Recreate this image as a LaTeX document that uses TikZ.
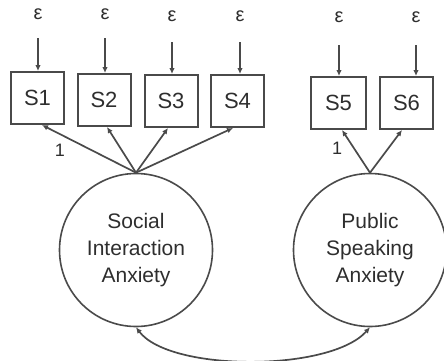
\documentclass[tikz,border=0pt]{standalone}
\usepackage{fontspec}
\setmainfont{Liberation Sans}
\usetikzlibrary{arrows.meta}
\definecolor{ink}{HTML}{2E2E2E}
\definecolor{linec}{HTML}{4A4A4A}
\tikzset{
  obs/.style={draw=linec, line width=2pt, minimum width=53pt, minimum height=52pt, inner sep=0pt, text=ink, font=\fontsize{22}{24}\selectfont},
  lat/.style={draw=linec, line width=1.6pt, circle, minimum size=153pt, inner sep=0pt, text=ink, align=center, font=\fontsize{21}{27}\selectfont},
  err/.style={inner sep=1pt, text=ink, font=\fontsize{20}{22}\selectfont},
  lbl/.style={inner sep=0pt, text=ink, font=\fontsize{18}{20}\selectfont},
  arr/.style={draw=linec, line width=1.7pt, -{Latex[length=6pt,width=5.5pt]}},
  darr/.style={draw=linec, line width=1.7pt, {Latex[length=6pt,width=5.5pt]}-{Latex[length=6pt,width=5.5pt]}}
}
\begin{document}
\begin{tikzpicture}[x=1pt,y=-1pt]
\useasboundingbox (0,0) rectangle (444,360);
% observed
\node[obs] (S1) at (37.5,98) {S1};
\node[obs] (S2) at (104,100) {S2};
\node[obs] (S3) at (171,101) {S3};
\node[obs] (S4) at (237.5,101) {S4};
\node[obs, minimum width=55pt] (S5) at (338.5,103) {S5};
\node[obs] (S6) at (406.5,103) {S6};
% errors
\node[err] (e1) at (38,14) {ε};
\node[err] (e2) at (105,14) {ε};
\node[err] (e3) at (172,16) {ε};
\node[err] (e4) at (240,16) {ε};
\node[err] (e5) at (339,17) {ε};
\node[err] (e6) at (416,17) {ε};
\coordinate (t1) at (38,38);
\coordinate (t2) at (105,38);
\coordinate (t3) at (172,42);
\coordinate (t4) at (240,42);
\coordinate (t5) at (339,45);
\coordinate (t6) at (416,45);
\foreach \i in {1,...,6} {
  \draw[arr] (t\i) -- (t\i |- S\i.north);
}
% latent
\node[lat] (SIA) at (136,250) {Social\\Interaction\\Anxiety};
\node[lat] (PSA) at (370,250) {Public\\Speaking\\Anxiety};
% loadings
\draw[arr] (SIA.north) -- ([xshift=4.5pt]S1.south);
\draw[arr] (SIA.north) -- ([xshift=3pt]S2.south);
\draw[arr] (SIA.north) -- ([xshift=-3pt]S3.south);
\draw[arr] (SIA.north) -- ([xshift=-4.5pt]S4.south);
\draw[arr] (PSA.north) -- ([xshift=3.5pt]S5.south);
\draw[arr] (PSA.north) -- ([xshift=-4.5pt]S6.south);
\node[lbl] (one1) at (60,150) {1};
\node[lbl] (one2) at (337,148) {1};
% correlation
\draw[darr] (SIA.south) .. controls (170,372) and (330,372) .. (PSA.south);
\end{tikzpicture}
\end{document}
